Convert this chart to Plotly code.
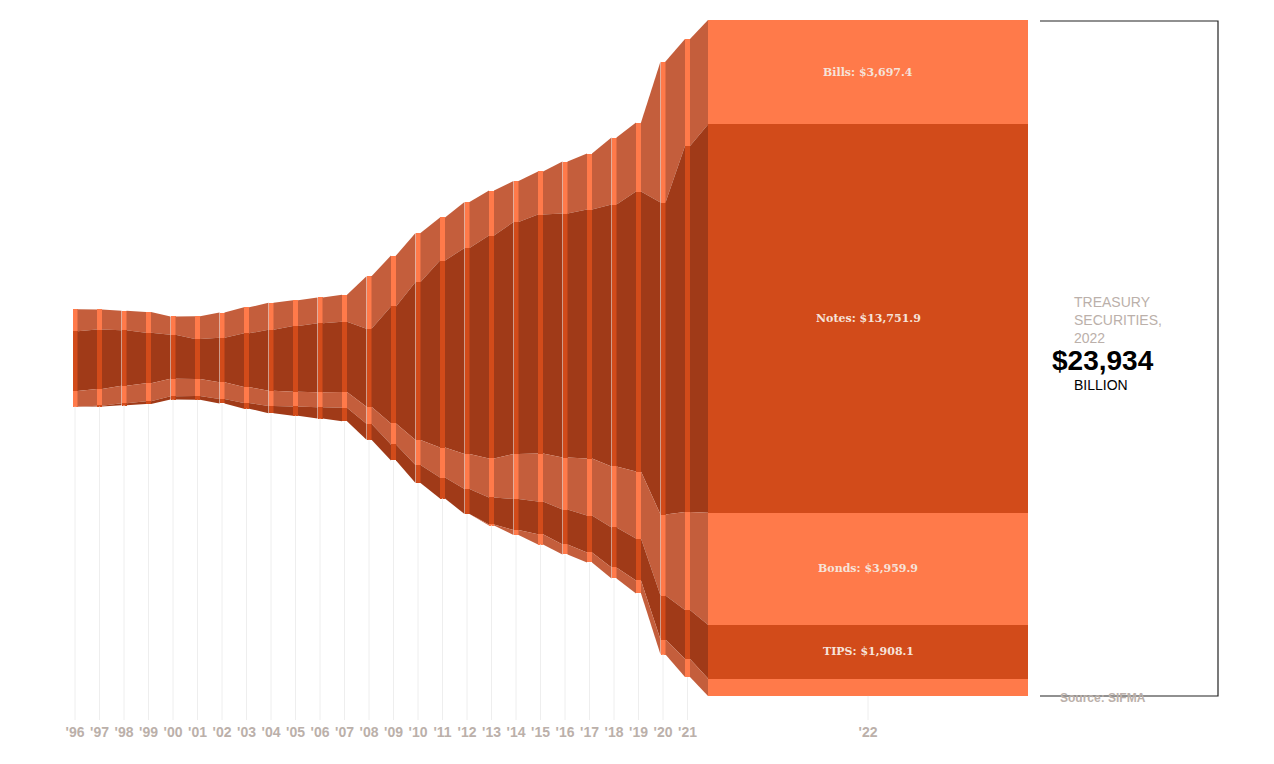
import plotly.graph_objects as go

years = list(range(1996, 2023))
tick_labels = ["'" + str(y)[2:] for y in years]

# outstanding, $ billions
bills = [777, 715, 691, 737, 647, 811, 889, 918, 962, 914, 911, 958, 1862, 1800, 1735, 1523,
         1629, 1593, 1452, 1523, 1841, 1983, 2372, 2443, 4993, 3789, 3697.4]
notes = [2112, 2106, 1961, 1784, 1557, 1414, 1580, 1905, 2157, 2328, 2445, 2488, 2762, 4143, 5595, 6622,
         7294, 7896, 8215, 8463, 8640, 8817, 9277, 9915, 11048, 12960, 13751.9]
bonds = [555, 587, 621, 643, 626, 603, 588, 564, 540, 517, 534, 561, 602, 744, 885, 1062,
         1239, 1381, 1593, 1700, 1841, 2018, 2160, 2372, 2868, 3470, 3959.9]
tips = [0, 33, 67, 98, 115, 135, 160, 201, 260, 330, 400, 480, 567, 567, 637, 744,
        885, 956, 1098, 1158, 1239, 1310, 1416, 1487, 1558, 1735, 1908.1]
frn = [0, 0, 0, 0, 0, 0, 0, 0, 0, 0, 0, 0, 0, 0, 0, 0,
       0, 35, 177, 365, 354, 354, 390, 460, 531, 637, 616.7]
total_2022 = 23934

series = [("Bills", bills), ("Notes", notes), ("Bonds", bonds), ("TIPS", tips), ("FRN", frn)]
bar_col = ["#FF7A4A", "#D24B1A", "#FF7A4A", "#D24B1A", "#FF7A4A"]
band_col = ["#C45E3C", "#A03A18", "#C45E3C", "#A03A18", "#C45E3C"]

PX = 24.5            # pixels per year slot
UNIT = 35.41         # billions per pixel
xpos = [y - 1996 for y in years[:-1]] + [(860 - 67) / PX]
widths = [5 / PX] * (len(years) - 1) + [320 / PX]

totals = [sum(s[i] for _, s in series) for i in range(len(years))]
# top edges of each segment, stream centred on zero
tops = []
for i in range(len(years)):
    y = totals[i] / 2
    col = []
    for _, s in series:
        col.append((y, y - s[i]))
        y -= s[i]
    tops.append(col)

fig = go.Figure()

# gridlines below the stream
y_grid_end = (350 - 712) * UNIT
for i in range(len(years)):
    fig.add_trace(go.Scatter(x=[xpos[i], xpos[i]], y=[-totals[i] / 2, y_grid_end], mode="lines",
                             line=dict(color="#EEEEEE", width=1), hoverinfo="skip", showlegend=False))

# bands connecting the bars
for k in range(len(series)):
    for i in range(len(years) - 1):
        x0 = xpos[i] + widths[i] / 2
        x1 = xpos[i + 1] - widths[i + 1] / 2
        a, b = tops[i][k], tops[i + 1][k]
        if a[0] - a[1] == 0 and b[0] - b[1] == 0:
            continue
        fig.add_trace(go.Scatter(x=[x0, x1, x1, x0, x0], y=[a[0], b[0], b[1], a[1], a[0]],
                                 fill="toself", fillcolor=band_col[k], mode="lines",
                                 line=dict(width=0), hoverinfo="skip", showlegend=False))

# bars
for k, (name, s) in enumerate(series):
    fig.add_trace(go.Bar(x=xpos, y=s, base=[tops[i][k][1] for i in range(len(years))], width=widths,
                         marker=dict(color=bar_col[k], line=dict(width=0)), name=name, showlegend=False,
                         hovertemplate=name + ": $%{y:,.1f}<extra></extra>"))

# 2022 labels
for k, (name, s) in enumerate(series[:4]):
    top, bot = tops[-1][k]
    fig.add_annotation(x=xpos[-1], y=(top + bot) / 2, text=f"<b>{name}: ${s[-1]:,.1f}</b>", showarrow=False,
                       font=dict(family="DejaVu Serif", size=11, color="#F6E3DA"))

def px_x(p):
    return (p - 67) / PX

def px_y(p):
    return (350 - p) * UNIT

fig.add_shape(type="path", xref="x", yref="y",
              path=f"M {px_x(1032)} {px_y(13)} L {px_x(1210)} {px_y(13)} L {px_x(1210)} {px_y(688)} L {px_x(1032)} {px_y(688)}",
              line=dict(color="#222222", width=1.2))

fig.add_annotation(x=px_x(1064), y=px_y(284), text="TREASURY<br>SECURITIES,<br>2022", showarrow=False,
                   xanchor="left", yanchor="top", align="left",
                   font=dict(family="Liberation Sans", size=14, color="#BBB0AA"))
fig.add_annotation(x=px_x(1042), y=px_y(352), text=f"<b>${total_2022:,}</b>", showarrow=False,
                   xanchor="left", font=dict(family="Liberation Sans", size=28, color="#000000"))
fig.add_annotation(x=px_x(1064), y=px_y(377), text="BILLION", showarrow=False,
                   xanchor="left", font=dict(family="Liberation Sans", size=14, color="#000000"))
fig.add_annotation(x=px_x(1050), y=px_y(690), text="<b>Source: SIFMA</b>", showarrow=False,
                   xanchor="left", font=dict(family="Liberation Sans", size=12, color="#BBB0AA"))

fig.update_layout(
    width=1274, height=764, barmode="overlay", bargap=0,
    paper_bgcolor="white", plot_bgcolor="white",
    margin=dict(l=0, r=0, t=0, b=50),
    xaxis=dict(range=[px_x(0), px_x(1274)], tickvals=xpos, ticktext=tick_labels, showgrid=False,
               zeroline=False, showline=False, ticks="",
               tickfont=dict(family="Liberation Sans", size=14, color="#BBB0AA", weight="bold")),
    yaxis=dict(range=[px_y(714), px_y(0)], visible=False),
    font=dict(family="Liberation Sans"),
)
fig.write_html("out.html")
